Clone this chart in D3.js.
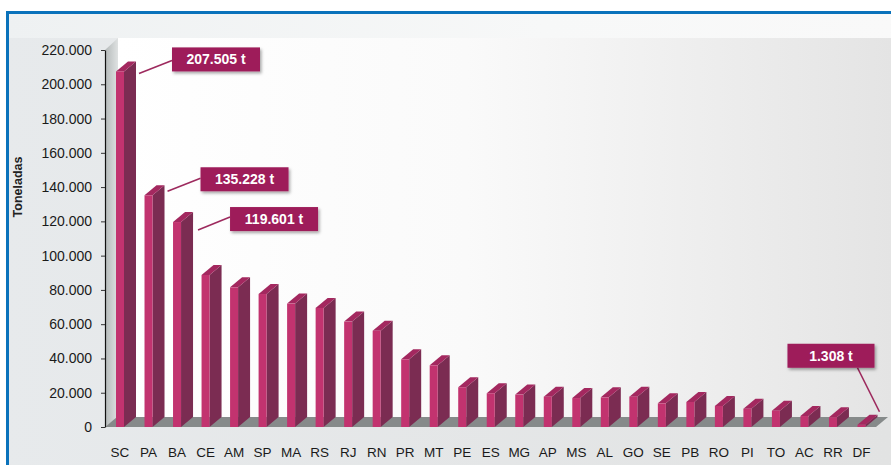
<!DOCTYPE html>
<html>
<head>
<meta charset="utf-8">
<script src="https://cdn.jsdelivr.net/npm/d3@7"></script>
<style>
  body { margin: 0; background: #fff; }
  svg { display: block; font-family: "Liberation Sans", Arial, sans-serif; }
</style>
</head>
<body>
<div id="chart"></div>
<script>
// states and tonnes
var states = ["SC","PA","BA","CE","AM","SP","MA","RS","RJ","RN","PR","MT","PE","ES",
              "MG","AP","MS","AL","GO","SE","PB","RO","PI","TO","AC","RR","DF"];
var tonnes = [207505, 135228, 119601, 88700, 81500, 77600, 72000, 69500, 61500, 56200,
              39500, 36000, 23200, 19700, 18900, 17700, 16900, 17300, 17700, 13800,
              14600, 12300, 10700, 9500, 6400, 5700, 1308];
var yTicks = [0, 20000, 40000, 60000, 80000, 100000, 120000, 140000, 160000, 180000, 200000, 220000];
var calloutStates = ["SC", "PA", "BA", "DF"];
var calloutLabels = ["207.505 t", "135.228 t", "119.601 t", "1.308 t"];

var width = 891,
    height = 465;

var svg = d3.select("#chart").append("svg")
    .attr("width", width)
    .attr("height", height);

var defs = svg.append("defs");

// background gradients
var wallGrad = defs.append("linearGradient").attr("id", "wall");
wallGrad.append("stop").attr("offset", "0%").attr("stop-color", "#ffffff");
wallGrad.append("stop").attr("offset", "45%").attr("stop-color", "#fafafa");
wallGrad.append("stop").attr("offset", "100%").attr("stop-color", "#e4e4e4");

var sideGrad = defs.append("linearGradient").attr("id", "sidewall");
sideGrad.append("stop").attr("offset", "0%").attr("stop-color", "#b4b9b9");
sideGrad.append("stop").attr("offset", "100%").attr("stop-color", "#dfe2e2");

var topGrad = defs.append("linearGradient").attr("id", "topband");
topGrad.append("stop").attr("offset", "0%").attr("stop-color", "#eef1f2");
topGrad.append("stop").attr("offset", "60%").attr("stop-color", "#f7f8f8");
topGrad.append("stop").attr("offset", "100%").attr("stop-color", "#f9f9f9");

var outerGrad = defs.append("linearGradient").attr("id", "outer");
outerGrad.append("stop").attr("offset", "0%").attr("stop-color", "#e7eaec");
outerGrad.append("stop").attr("offset", "100%").attr("stop-color", "#e2e3e3");

var shadow = defs.append("filter").attr("id", "shadow")
    .attr("x", "-20%").attr("y", "-30%").attr("width", "150%").attr("height", "180%");
shadow.append("feDropShadow")
    .attr("dx", 1.5).attr("dy", 2).attr("stdDeviation", 1.5)
    .attr("flood-color", "#000").attr("flood-opacity", 0.35);

svg.append("rect").attr("x", 0).attr("y", 0).attr("width", width).attr("height", height)
    .attr("fill", "url(#outer)");
svg.append("rect").attr("x", 8).attr("y", 13).attr("width", width).attr("height", 25)
    .attr("fill", "url(#topband)");

var x = d3.scaleBand()
    .domain(states)
    .range([106, 876]);

var y = d3.scaleLinear()
    .domain([0, 220000])
    .range([427, 50]);

var depthX = 12, depthY = 10, faceW = 8;
var base = y(0);
var axisX = 105;

// back wall + side wall + floor
svg.append("rect")
    .attr("x", axisX + depthX + 1).attr("y", y(220000) - depthY - 2)
    .attr("width", width - axisX - depthX).attr("height", base - y(220000) + 2)
    .attr("fill", "url(#wall)");

svg.append("polygon")
    .attr("points", [[axisX, y(220000)], [axisX + depthX + 1, y(220000) - depthY - 2],
                     [axisX + depthX + 1, base - depthY], [axisX, base]].join(" "))
    .attr("fill", "url(#sidewall)");

svg.append("polygon")
    .attr("points", [[axisX, base], [axisX + depthX, base - depthY],
                     [888, base - depthY], [876, base]].join(" "))
    .attr("fill", "#868a8a");

// bars
var bars = svg.selectAll(".bar")
    .data(states)
    .enter().append("g")
    .attr("class", "bar");

bars.each(function(d, i) {
    var g = d3.select(this);
    var x0 = x(d) + 10;
    var yv = y(tonnes[i]);
    // side face
    g.append("polygon")
        .attr("points", [[x0 + faceW, yv], [x0 + faceW + depthX, yv - depthY],
                         [x0 + faceW + depthX, base - depthY], [x0 + faceW, base]].join(" "))
        .attr("fill", "#7b2c52");
    // top
    g.append("polygon")
        .attr("points", [[x0, yv], [x0 + depthX, yv - depthY],
                         [x0 + depthX + faceW, yv - depthY], [x0 + faceW, yv]].join(" "))
        .attr("fill", "#a3285f");
    // front
    g.append("rect")
        .attr("x", x0).attr("y", yv)
        .attr("width", faceW).attr("height", base - yv)
        .attr("fill", "#c2336f");
});

// y axis
var locale = d3.formatLocale({decimal: ",", thousands: ".", grouping: [3], currency: ["", ""]});
var fmt = locale.format(",");

var yAxis = d3.axisLeft(y)
    .tickValues(yTicks)
    .tickFormat(fmt)
    .tickSize(4)
    .tickSizeOuter(0)
    .tickPadding(9);

var ga = svg.append("g")
    .attr("transform", "translate(" + axisX + ",0)")
    .call(yAxis);
ga.select(".domain").attr("stroke", "#111").attr("stroke-width", 1.2);
ga.selectAll(".tick line").attr("stroke", "#333");
ga.selectAll(".tick text")
    .attr("font-size", 14)
    .attr("font-family", "Liberation Sans, Arial, sans-serif")
    .attr("fill", "#1a1a1a");

svg.append("text")
    .attr("transform", "translate(22," + 187 + ") rotate(-90)")
    .attr("text-anchor", "middle")
    .attr("font-size", 12.5)
    .attr("font-weight", "bold")
    .attr("fill", "#222")
    .text("Toneladas");

// category labels
svg.selectAll(".cat")
    .data(states)
    .enter().append("text")
    .attr("class", "cat")
    .attr("x", function(d) { return x(d) + 14; })
    .attr("y", 457)
    .attr("text-anchor", "middle")
    .attr("font-size", 13.5)
    .attr("fill", "#1a1a1a")
    .text(function(d) { return d; });

// callouts - box position relative to the bar top
var calloutOffsets = {
    SC: {box: [56, -24], from: [23, 2], to: [56, -11]},
    PA: {box: [56, -28], from: [23, -4], to: [56, -17]},
    BA: {box: [57, -15], from: [25, 8], to: [57, -5]},
    DF: {box: [-70, -81], from: [0, -57], to: [22, -13]}
};
var boxW = 88, boxH = 24;

calloutStates.forEach(function(s, k) {
    var i = states.indexOf(s);
    var bx = x(s) + 10, by = y(tonnes[i]);
    var o = calloutOffsets[s];
    var w = s === "DF" ? 87 : boxW;
    svg.append("line")
        .attr("x1", bx + o.from[0]).attr("y1", by + o.from[1])
        .attr("x2", bx + o.to[0]).attr("y2", by + o.to[1])
        .attr("stroke", "#9d2a5e")
        .attr("stroke-width", 1.6);
    svg.append("rect")
        .attr("x", bx + o.box[0]).attr("y", by + o.box[1])
        .attr("width", w).attr("height", boxH)
        .attr("fill", "#9e1c5a")
        .attr("filter", "url(#shadow)");
    svg.append("text")
        .attr("x", bx + o.box[0] + w / 2).attr("y", by + o.box[1] + 17)
        .attr("text-anchor", "middle")
        .attr("font-size", 14)
        .attr("font-weight", "bold")
        .attr("fill", "#fff")
        .text(calloutLabels[k]);
});

// blue frame
svg.append("path")
    .attr("d", "M7.5," + height + " V12.5 H" + width)
    .attr("fill", "none")
    .attr("stroke", "#0a72bb")
    .attr("stroke-width", 3);
svg.append("rect").attr("x", 0).attr("y", 0).attr("width", width).attr("height", 11)
    .attr("fill", "#fff");
svg.append("rect").attr("x", 0).attr("y", 0).attr("width", 6).attr("height", height)
    .attr("fill", "#fff");
</script>
</body>
</html>
